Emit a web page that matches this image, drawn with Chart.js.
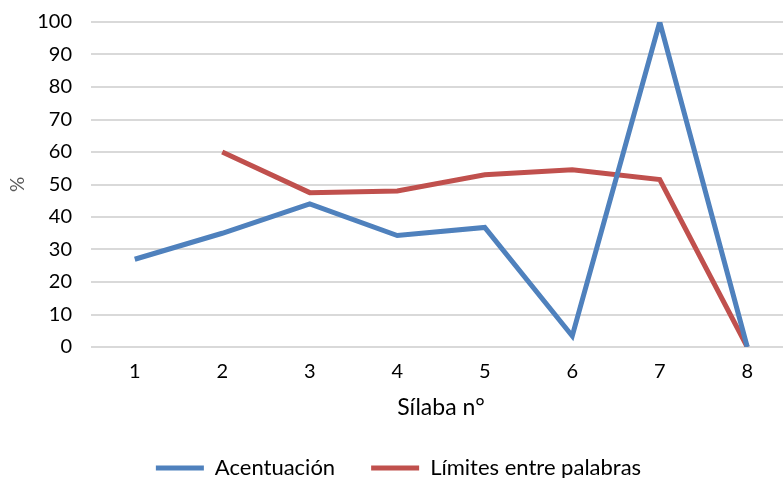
<!DOCTYPE html>
<html>
<head>
<meta charset="utf-8">
<script src="https://cdn.jsdelivr.net/npm/chart.js@4"></script>
<style>
html,body{margin:0;padding:0;background:#fff;overflow:hidden;}
#wrap{width:800px;height:478px;}
</style>
</head>
<body>
<div id="wrap"><canvas id="chart" width="800" height="478"></canvas></div>
<script>
const silabas = ["1","2","3","4","5","6","7","8"];
const acentuacion = [27, 35, 44, 34.3, 36.8, 3.4, 100, 0];
const limites = [null, 60, 47.5, 48, 53, 54.5, 51.5, 0];
const yTicks = [0,10,20,30,40,50,60,70,80,90,100];

const FONT = "Lato, 'Open Sans', sans-serif";

new Chart(document.getElementById("chart"), {
type: "line",
data: {
labels: silabas,
datasets: [
{
label: "Acentuación",
data: acentuacion,
borderColor: "#4f81bd",
backgroundColor: "#4f81bd",
borderWidth: 5,
pointRadius: 0,
tension: 0
},
{
label: "Límites entre palabras",
data: limites,
borderColor: "#c0504d",
backgroundColor: "#c0504d",
borderWidth: 5,
pointRadius: 0,
tension: 0
}
]
},
options: {
responsive: false,
animation: false,
// legend sits close to the bottom edge, hence the small negative padding
layout: { padding: { top: 22, left: 6, right: 9, bottom: -11 } },
plugins: {
tooltip: { enabled: false },
legend: {
position: "bottom",
align: "center",
labels: {
usePointStyle: true,
pointStyle: "line",
pointStyleWidth: 48,
boxHeight: 5,
color: "#000",
font: { family: FONT, size: 22 },
padding: 36
}
}
},
scales: {
x: {
offset: true,
grid: { display: false },
border: { display: false },
ticks: { color: "#000", font: { family: FONT, size: 20 }, padding: 5 },
title: { display: true, text: "Sílaba n°", color: "#000", font: { family: FONT, size: 23 }, padding: { top: 2, bottom: 0 } },
afterFit: s => { s.height = 74; }
},
y: {
min: 0,
max: 100,
afterBuildTicks: s => { s.ticks = yTicks.map(v => ({ value: v })); },
grid: { color: "#d9d9d9", lineWidth: 2, drawTicks: true, tickLength: 11, tickColor: "rgba(0,0,0,0)" },
border: { display: false },
ticks: { color: "#000", font: { family: FONT, size: 20 }, padding: 8 },
title: { display: true, text: "%", color: "#595959", font: { family: FONT, size: 19 }, padding: 0 },
afterFit: s => { s.width = 85; }
}
}
}
});
</script>
</body>
</html>
